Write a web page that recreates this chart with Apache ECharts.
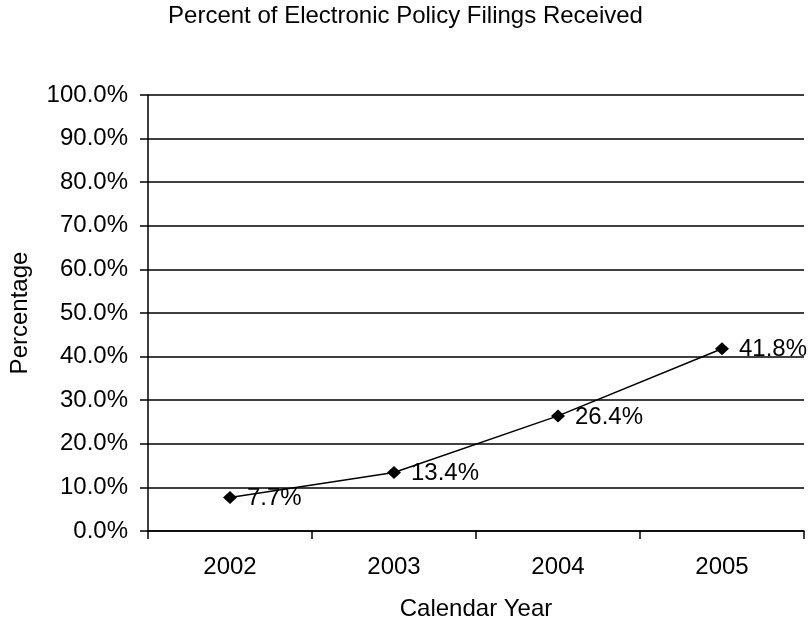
<!DOCTYPE html>
<html>
<head>
<meta charset="utf-8">
<title>Percent of Electronic Policy Filings Received</title>
<script src="https://cdn.jsdelivr.net/npm/echarts@6/dist/echarts.min.js"></script>
<style>
    html, body { margin:0; padding:0; background:#fff; }
    #chart { width:811px; height:626px; }
</style>
</head>
<body>
<div id="chart"></div>
<script>
var years = ['2002', '2003', '2004', '2005'];
var percentValues = [7.7, 13.4, 26.4, 41.8];

var chart = echarts.init(document.getElementById('chart'));
var fontFam = 'Liberation Sans, Arial, sans-serif';

var option = {
    backgroundColor: '#ffffff',
    animation: false,
    title: {
        text: 'Percent of Electronic Policy Filings Received',
        left: 'center',
        top: 4,
        padding: 0,
        textStyle: { fontFamily: fontFam, fontSize: 24, fontWeight: 'normal', color: '#000' }
    },
    grid: { left: 147, right: 7, top: 95, bottom: 93 },
    xAxis: {
        type: 'category',
        data: years,
        boundaryGap: true,
        name: 'Calendar Year',
        nameLocation: 'middle',
        nameGap: 66,
        nameTextStyle: { fontFamily: fontFam, fontSize: 24, color: '#000' },
        axisLine: { lineStyle: { color: '#000', width: 1.5 } },
        axisTick: { show: true, length: 8, inside: false, lineStyle: { color: '#000', width: 1.5 } },
        axisLabel: { fontFamily: fontFam, fontSize: 24, color: '#000', margin: 24 },
        splitLine: { show: false }
    },
    yAxis: {
        type: 'value',
        min: 0,
        max: 100,
        interval: 10,
        name: 'Percentage',
        nameLocation: 'middle',
        nameGap: 116,
        nameTextStyle: { fontFamily: fontFam, fontSize: 24, color: '#000' },
        axisLine: { show: true, lineStyle: { color: '#000', width: 1.5 } },
        axisTick: { show: true, length: 8, lineStyle: { color: '#000', width: 1.5 } },
        axisLabel: {
            fontFamily: fontFam, fontSize: 24, color: '#000', margin: 20,
            formatter: function (v) { return v.toFixed(1) + '%'; }
        },
        splitLine: { show: true, lineStyle: { color: '#000', width: 1.5 } }
    },
    series: [
        {
            name: 'Percentage',
            type: 'line',
            data: percentValues,
            symbol: 'diamond',
            symbolSize: [14, 13],
            itemStyle: { color: '#000' },
            lineStyle: { color: '#000', width: 1.5 },
            label: {
                show: true,
                position: 'right',
                distance: 10,
                offset: [0, 1],
                fontFamily: fontFam,
                fontSize: 24,
                color: '#000',
                formatter: function (p) { return p.value.toFixed(1) + '%'; }
            }
        }
    ]
};

chart.setOption(option);
</script>
</body>
</html>
